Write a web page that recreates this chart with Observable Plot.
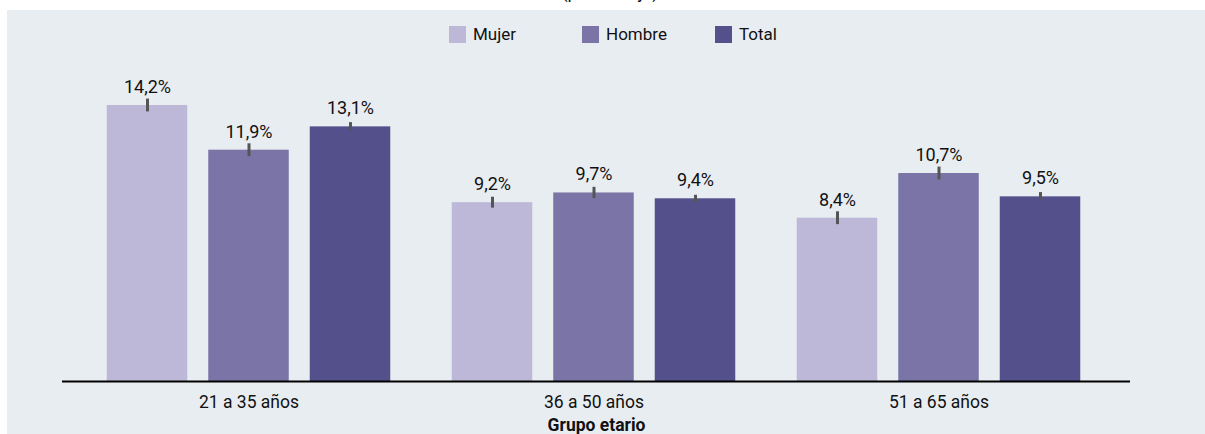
<!DOCTYPE html>
<html>
<head>
<meta charset="utf-8">
<script src="https://cdn.jsdelivr.net/npm/d3@7"></script>
<script src="https://cdn.jsdelivr.net/npm/@observablehq/plot@0.6"></script>
<style>
  html, body { margin: 0; padding: 0; background: #ffffff; font-family: Roboto, "Noto Sans", sans-serif; overflow: hidden; }
  #page { position: relative; width: 1205px; height: 434px; overflow: hidden; }
  #titlebox { position: absolute; left: 0; top: 0; width: 1205px; height: 10px; overflow: hidden; }
  #title { position: absolute; left: 0; width: 1220px; text-align: center; top: -19px; font-size: 18px; line-height: 22px; color: #111; }
  #panel { position: absolute; left: 7px; top: 10px; width: 1210px; height: 430px; background: #e8edf1; }
  #chart { position: absolute; left: 0; top: 10px; }
  .leg { position: absolute; top: 26px; height: 17px; }
  .leg .sw { position: absolute; left: 0; top: 0; width: 17px; height: 17px; }
  .leg .lb { position: absolute; left: 24px; top: 0; font-size: 17px; line-height: 17px; color: #111; white-space: nowrap; }
  #chart g[aria-label="x-axis label"] text { font-weight: 700; }
</style>
</head>
<body>
<div id="page">
  <div id="titlebox"><div id="title">(porcentaje)</div></div>
  <div id="panel"></div>
  <div id="legend"></div>
  <div id="chart"></div>
</div>
<script>
// ---- data ----
const groups = ["21 a 35 años", "36 a 50 años", "51 a 65 años"];
const series = ["Mujer", "Hombre", "Total"];
const mujer = [14.2, 9.2, 8.4];
const hombre = [11.9, 9.7, 10.7];
const total = [13.1, 9.4, 9.5];
const errMujer = [0.33, 0.28, 0.33];
const errHombre = [0.33, 0.29, 0.33];
const errTotal = [0.22, 0.18, 0.22];
const axisLabel = "Grupo etario";

// ---- styling ----
const colors = ["#bdb8d7", "#7a74a7", "#53508b"];
const offsets = [-101.5, 0, 101.5];
const legendX = [449, 582, 715];

const values = [mujer, hombre, total];
const errs = [errMujer, errHombre, errTotal];
const rows = [];
series.forEach((s, i) => groups.forEach((g, j) => rows.push({group: g, series: s, value: values[i][j], err: errs[i][j]})));
const fmt = v => v.toFixed(1).replace(".", ",") + "%";

const marks = [];
series.forEach((s, i) => {
  const d = rows.filter(r => r.series === s);
  marks.push(Plot.barY(d, {x: "group", y: "value", fill: colors[i], insetLeft: 132.25, insetRight: 132.25, dx: offsets[i]}));
});
series.forEach((s, i) => {
  const d = rows.filter(r => r.series === s);
  marks.push(Plot.ruleX(d, {x: "group", y1: r => r.value - r.err, y2: r => r.value + r.err, stroke: "#555555", strokeWidth: 3, dx: offsets[i]}));
  marks.push(Plot.text(d, {x: "group", y: "value", text: r => fmt(r.value), dx: offsets[i], dy: -12.5, lineAnchor: "bottom", fontSize: 18, fill: "#111111"}));
});
marks.push(Plot.ruleY([0], {stroke: "#000000", strokeWidth: 2}));

const chart = Plot.plot({
  width: 1205,
  height: 424,
  marginLeft: 62,
  marginRight: 75,
  marginTop: 60,
  marginBottom: 53,
  style: {background: "transparent", fontFamily: "Roboto, 'Noto Sans', sans-serif", fontSize: "17.5px", color: "#111111"},
  x: {type: "band", domain: groups, paddingInner: 0, paddingOuter: 0.0434, align: 0.417, label: axisLabel, labelAnchor: "center", labelOffset: 49, tickSize: 0, tickPadding: 14},
  y: {domain: [0, 16], axis: null},
  marks
});
document.getElementById("chart").appendChild(chart);

const legend = document.getElementById("legend");
series.forEach((s, i) => {
  const item = document.createElement("div");
  item.className = "leg";
  item.style.left = legendX[i] + "px";
  item.innerHTML = `<div class="sw" style="background:${colors[i]}"></div><div class="lb">${s}</div>`;
  legend.appendChild(item);
});
</script>
</body>
</html>
